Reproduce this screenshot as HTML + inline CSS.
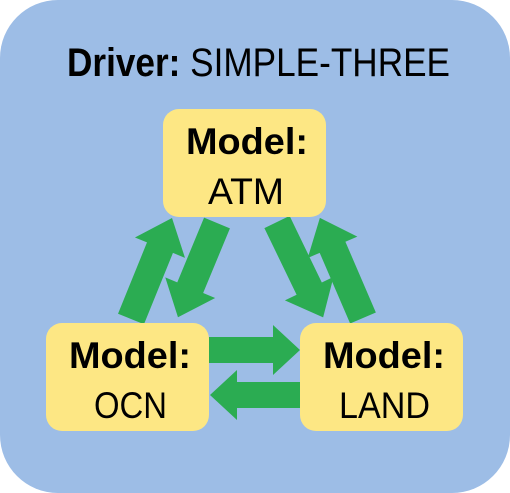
<!DOCTYPE html>
<html><head><style>
html,body{margin:0;padding:0;background:#fff;}
svg{display:block;}
text{font-family:"Liberation Sans",sans-serif;fill:#000;}
</style></head><body>
<svg width="510" height="493" viewBox="0 0 510 493" xmlns="http://www.w3.org/2000/svg">
<rect x="0" y="0" width="510" height="493" rx="58" fill="#9dbde6"/>
<text x="67" y="76" font-size="40" textLength="383" lengthAdjust="spacingAndGlyphs"><tspan font-weight="bold">Driver:</tspan>  SIMPLE-THREE</text>

<g fill="#2bac52">
<polygon points="0,-14 77,-14 77,-27 109,0 77,27 77,14 0,14" transform="translate(131,319) rotate(-67.9)"/>
<polygon points="0,-14 70,-14 70,-27 102,0 70,27 70,14 0,14" transform="translate(217,223) rotate(112.5)"/>
<polygon points="0,-14 74,-14 74,-27 106,0 74,27 74,14 0,14" transform="translate(277,222) rotate(64.2)"/>
<polygon points="0,-14 77,-14 77,-27 109,0 77,27 77,14 0,14" transform="translate(363,318) rotate(-113.3)"/>
<polygon points="209,337 273,337 273,325 300,350 273,375 273,363 209,363"/>
<polygon points="300,382 237,382 237,370 210,395 237,420 237,408 300,408"/>
</g>

<rect x="163" y="109" width="163" height="108" rx="16" fill="#fde784"/>
<rect x="46" y="323" width="163" height="108" rx="16" fill="#fde784"/>
<rect x="300" y="323" width="163" height="108" rx="16" fill="#fde784"/>

<text x="186" y="154" font-size="37" font-weight="bold" textLength="122" lengthAdjust="spacingAndGlyphs">Model:</text>
<text x="208" y="204" font-size="37" textLength="76" lengthAdjust="spacingAndGlyphs">ATM</text>
<text x="69" y="368" font-size="37" font-weight="bold" textLength="122" lengthAdjust="spacingAndGlyphs">Model:</text>
<text x="94" y="418" font-size="37" textLength="73" lengthAdjust="spacingAndGlyphs">OCN</text>
<text x="323" y="368" font-size="37" font-weight="bold" textLength="122" lengthAdjust="spacingAndGlyphs">Model:</text>
<text x="339" y="418" font-size="37" textLength="91" lengthAdjust="spacingAndGlyphs">LAND</text>
</svg>
</body></html>
